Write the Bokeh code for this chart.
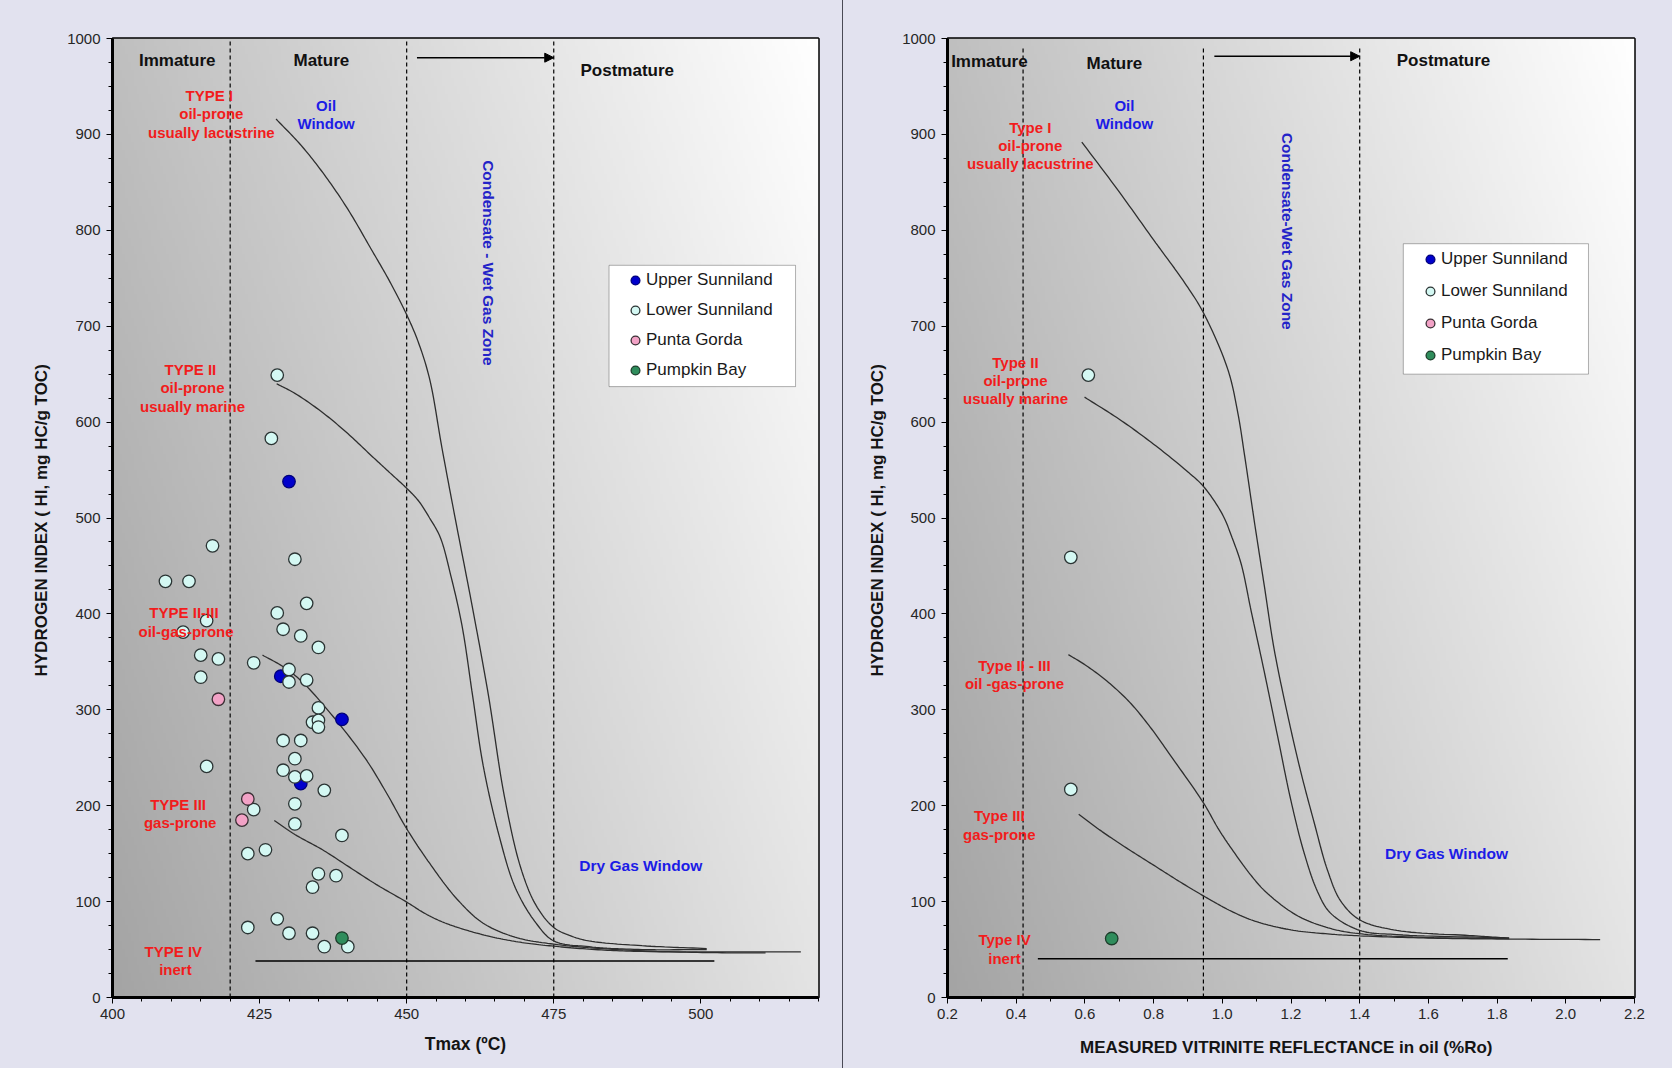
import numpy as np
from bokeh.plotting import figure
from bokeh.models import (Range1d, FixedTicker, Legend, LegendItem, Arrow, NormalHead,
                          Div, ColumnDataSource, BoxAnnotation, NumeralTickFormatter)
from bokeh.layouts import row
from bokeh.embed import file_html
from bokeh.resources import INLINE
from bokeh.core.properties import value

# ------------------------------------------------------------------ data
# Left panel: Tmax (degC) vs Hydrogen Index
upper_tmax = [430, 428.6, 439, 432]
upper_hi = [538, 335, 290, 223]
lower_tmax = [428, 427, 417, 431, 409, 413, 433, 428, 416, 412, 429, 432, 435, 415, 418, 424,
              430, 430, 433, 415, 435, 434, 435, 435, 429, 432, 416, 431, 429, 431, 433, 436,
              424, 431, 431, 439, 423, 426, 435, 438, 434, 428, 423, 430, 434, 436, 440]
lower_hi = [649, 583, 471, 457, 434, 434, 411, 401, 393, 381, 384, 377, 365, 357, 353, 349,
            342, 329, 331, 334, 302, 287, 289, 282, 268, 268, 241, 249, 237, 230, 231, 216,
            196, 202, 181, 169, 150, 154, 129, 127, 115, 82, 73, 67, 67, 53, 53]
punta_tmax = [418, 423, 422]
punta_hi = [311, 207, 185]
pumpkin_tmax = [439]
pumpkin_hi = [62]

# Right panel: vitrinite reflectance (%Ro) vs Hydrogen Index
upper_ro, upper_hi_r = [], []
lower_ro = [0.61, 0.559, 0.559]
lower_hi_r = [649, 459, 217]
punta_ro, punta_hi_r = [], []
pumpkin_ro = [0.678]
pumpkin_hi_r = [61.5]

# Kerogen-type maturation curves (left)
t1_tmax = [427.8, 432, 436, 440, 444, 447, 450, 452, 453.9, 456, 458.3, 461.2, 463.9, 466.6,
           469.4, 472, 475, 478, 481, 490, 501]
t1_hi = [916, 889, 858, 822, 780, 748, 712, 683, 645, 573, 498, 406, 315, 210,
         135, 96, 73, 64, 59, 54, 51]
t2_tmax = [427.9, 431, 435.7, 440, 444, 447, 450, 452, 453.9, 455.7, 457.5, 459.4, 461.2, 463,
           465.7, 468.5, 472, 475, 481, 490, 501]
t2_hi = [640, 630, 610, 588, 565, 548, 531, 518, 500, 480, 440, 388, 315, 242,
         169, 114, 77.5, 59, 53, 50, 50]
t23_tmax = [425.5, 429, 432.1, 437.5, 443, 446.6, 450, 453.9, 458.5, 463, 468.4, 475, 485.7,
            499.4, 511]
t23_hi = [357, 345, 330, 293, 249, 213, 176, 140, 103, 77.5, 63, 55.6, 50, 47, 46.5]
t3_tmax = [427.5, 431, 435.7, 440, 444.8, 450, 453, 456, 460, 465, 470, 475, 482, 490, 517]
t3_hi = [184.6, 170, 154, 137, 118, 99.5, 88, 79, 70.5, 62.5, 57, 53.5, 50, 48, 47.5]
t4_tmax = [424.3, 502.3]
t4_hi = [38, 38]

# Kerogen-type maturation curves (right)
r1_ro = [0.591, 0.7, 0.8, 0.891, 0.945, 1.016, 1.045, 1.065, 1.093, 1.122, 1.151, 1.19, 1.228,
         1.267, 1.306, 1.344, 1.40, 1.508, 1.72, 1.835]
r1_hi = [892, 840, 790, 745, 714, 655, 610, 565, 497, 430, 363, 295, 236,
         183, 133, 101, 81, 70, 64.6, 62]
r2_ro = [0.599, 0.7, 0.8, 0.9, 0.945, 1.0, 1.03, 1.055, 1.084, 1.122, 1.161, 1.2,
         1.238, 1.277, 1.315, 1.40, 1.508, 1.835]
r2_hi = [626, 603, 577, 548, 533, 504, 478, 452, 403, 340, 272.5, 205,
         151, 110.6, 88, 70, 65.6, 62]
r23_ro = [0.552, 0.6, 0.664, 0.73, 0.79, 0.85, 0.945, 0.99, 1.035, 1.08, 1.127, 1.22, 1.315,
          1.40, 1.6, 1.835]
r23_hi = [357.5, 347, 330, 308, 282, 252, 203, 175, 151, 129, 110, 85, 72, 66.5, 62.5, 61.5]
r3_ro = [0.582, 0.65, 0.725, 0.8, 0.875, 0.945, 1.026, 1.1, 1.2, 1.3, 1.4, 1.6, 1.8, 2.1]
r3_hi = [191, 173, 155, 138, 121, 106, 90, 79, 70.5, 66.5, 64.3, 62, 61, 60.4]
r4_ro = [0.463, 1.831]
r4_hi = [40.4, 40.4]

# zone boundaries
left_bounds = [420, 450, 475]
right_bounds = [0.42, 0.945, 1.40]

# ticks
left_x_ticks = [400, 425, 450, 475, 500]
left_x_minor = [v for v in range(400, 521, 5)]
y_ticks = [0, 100, 200, 300, 400, 500, 600, 700, 800, 900, 1000]
y_minor = [v for v in range(0, 1001, 25)]
right_x_ticks = [0.2, 0.4, 0.6, 0.8, 1.0, 1.2, 1.4, 1.6, 1.8, 2.0, 2.2]
right_x_minor = [round(0.2 + 0.1 * i, 2) for i in range(21)]

series_names = ["Upper Sunniland", "Lower Sunniland", "Punta Gorda", "Pumpkin Bay"]

# ------------------------------------------------------------------ style
FONTNAME = "Liberation Sans"
FONT = value(FONTNAME)
PAGE_BG = "#e2e2ef"
RED = "#f21c1c"
BLUE = "#1c1ce6"
series_fill = ["#0000cc", "#d4f8f3", "#f2a2c6", "#2f8d5c"]
series_line = ["#00007a", "#2b3434", "#3a2f34", "#1d3d2b"]
FIG_H = 1068


def smooth_path(xs, ys, xspan):
    """Centripetal Catmull-Rom drawing path through the read points (Excel-like smoothed line)."""
    sx = 700.0 / xspan
    sy = 0.96
    P = np.column_stack([np.asarray(xs, float) * sx, np.asarray(ys, float) * sy])
    if len(P) < 3:
        return list(xs), list(ys)
    P = np.vstack([2 * P[0] - P[1], P, 2 * P[-1] - P[-2]])
    out = []
    for i in range(1, len(P) - 2):
        p0, p1, p2, p3 = P[i - 1], P[i], P[i + 1], P[i + 2]
        t0 = 0.0
        t1 = t0 + max(np.linalg.norm(p1 - p0), 1e-6) ** 0.5
        t2 = t1 + max(np.linalg.norm(p2 - p1), 1e-6) ** 0.5
        t3 = t2 + max(np.linalg.norm(p3 - p2), 1e-6) ** 0.5
        for t in np.linspace(t1, t2, 14, endpoint=False):
            a1 = (t1 - t) / (t1 - t0) * p0 + (t - t0) / (t1 - t0) * p1
            a2 = (t2 - t) / (t2 - t1) * p1 + (t - t1) / (t2 - t1) * p2
            a3 = (t3 - t) / (t3 - t2) * p2 + (t - t2) / (t3 - t2) * p3
            b1 = (t2 - t) / (t2 - t0) * a1 + (t - t0) / (t2 - t0) * a2
            b2 = (t3 - t) / (t3 - t1) * a2 + (t - t1) / (t3 - t1) * a3
            out.append((t2 - t) / (t2 - t1) * b1 + (t - t1) / (t2 - t1) * b2)
    out.append(P[-2])
    out = np.array(out)
    return list(out[:, 0] / sx), list(out[:, 1] / sy)


def gradient_image():
    ny, nx = 120, 240
    xf = np.linspace(0, 1, nx)[None, :]
    yf = np.linspace(0, 1, ny)[:, None]
    t = np.clip(0.70 * xf + 0.30 * yf, 0, 1)
    g = (164 + 91 * t).astype(np.uint32)
    return (np.uint32(255) << 24) | (g << 16) | (g << 8) | g


def make_fig(width, xr, border, xlabel, xticks, xminor, x_fmt=None):
    p = figure(width=width, height=FIG_H, x_range=Range1d(*xr), y_range=Range1d(0, 1000),
               output_backend="svg", toolbar_location=None,
               min_border_left=border[0], min_border_right=border[1],
               min_border_top=border[2], min_border_bottom=border[3])
    p.border_fill_color = PAGE_BG
    p.background_fill_color = "white"
    p.outline_line_color = "black"
    p.outline_line_width = 2.5
    p.grid.visible = False
    p.image_rgba(image=[gradient_image()], x=xr[0], y=0, dw=xr[1] - xr[0], dh=1000, level="image")

    for ax in (p.xaxis, p.yaxis):
        ax.axis_line_width = 3
        ax.axis_line_color = "black"
        ax.major_tick_line_color = "black"
        ax.minor_tick_line_color = "black"
        ax.major_tick_in = 0
        ax.major_tick_out = 6
        ax.minor_tick_in = 0
        ax.minor_tick_out = 4
        ax.major_label_text_font = FONTNAME
        ax.major_label_text_font_size = "15px"
        ax.major_label_text_color = "#262626"
        ax.axis_label_text_font = FONTNAME
        ax.axis_label_text_font_style = "bold"
        ax.axis_label_text_color = "#141414"
    p.xaxis.ticker = FixedTicker(ticks=xticks, minor_ticks=xminor)
    p.yaxis.ticker = FixedTicker(ticks=y_ticks, minor_ticks=y_minor)
    if x_fmt:
        p.xaxis.formatter = NumeralTickFormatter(format=x_fmt)
    p.xaxis.major_label_standoff = 5
    p.yaxis.major_label_standoff = 6
    p.xaxis.axis_label = xlabel
    p.xaxis.axis_label_text_font_size = "17px"
    p.yaxis.axis_label = "HYDROGEN  INDEX ( HI, mg HC/g TOC)"
    p.yaxis.axis_label_text_font_size = "17px"
    return p


def add_common(p, bounds, vline_top, arrow_y, curves, inert, pts, labels, vtext,
               legend_box, legend_loc, pitch, xspan):
    # zone boundaries
    for b in bounds:
        p.line([b, b], [0, vline_top], line_color="black", line_width=1.2, line_dash="4 3")
    p.add_layout(Arrow(end=NormalHead(size=9, fill_color="black", line_color="black"),
                       x_start=bounds[1] + 0.07 * (bounds[2] - bounds[1]), y_start=arrow_y,
                       x_end=bounds[2], y_end=arrow_y, line_color="black", line_width=1.5))
    # curves
    for cx, cy in curves:
        sx, sy = smooth_path(cx, cy, xspan)
        p.line(sx, sy, line_color="#2e2e2e", line_width=1.3)
    p.line(inert[0], inert[1], line_color="black", line_width=1.6)

    # points (series without samples still get a legend swatch)
    rends = []
    for (xs, ys), fc, lc in zip(pts, series_fill, series_line):
        xs = xs if len(xs) else [float("nan")]
        ys = ys if len(ys) else [float("nan")]
        rends.append(p.scatter(xs, ys, size=12.5, fill_color=fc, line_color=lc, line_width=1.3))
    # labels
    src = ColumnDataSource(labels)
    p.text(x="x", y="y", text="text", text_color="color", source=src, text_font=FONT,
           text_font_style="bold", text_font_size="size", text_align="center",
           text_baseline="middle", text_line_height=1.08)
    p.text(x=[vtext[0]], y=[vtext[1]], text=[vtext[2]], angle=-np.pi / 2, text_color="#2323c8",
           text_font=FONT, text_font_style="bold", text_font_size="15.5px",
           text_align="center", text_baseline="middle")
    # legend
    p.add_layout(BoxAnnotation(left=legend_box[0], right=legend_box[1], bottom=legend_box[2],
                               top=legend_box[3], fill_color="white", fill_alpha=1,
                               line_color="black", line_width=1, level="annotation"))
    leg = Legend(items=[LegendItem(label=n, renderers=[r]) for n, r in zip(series_names, rends)],
                 location=legend_loc, orientation="vertical",
                 border_line_alpha=0, background_fill_alpha=0, margin=0, padding=16,
                 glyph_width=22, glyph_height=pitch - 4, label_height=pitch - 4, spacing=4,
                 label_standoff=0, label_text_font=FONTNAME, label_text_font_size="17px",
                 label_text_color="#1a1a1a")
    p.add_layout(leg)
    return rends


# ------------------------------------------------------------------ left panel
pl = make_fig(842, (400, 520), (112, 24, 38, 71), "Tmax (ºC)", left_x_ticks, left_x_minor)
pl.xaxis.axis_label_text_font_size = "17.5px"
pl.xaxis.axis_label_standoff = 12
pl.yaxis.axis_label_standoff = 13
left_labels = dict(
    x=[411, 435.5, 487.5, 416.8, 436.3, 413.6, 412.5, 411.5, 410.7, 489.8],
    y=[977, 977, 966.5, 921.5, 921, 635.6, 391.5, 192, 38.5, 138],
    text=["Immature", "Mature", "Postmature", "TYPE  I\noil-prone\nusually lacustrine",
          "Oil\nWindow", "TYPE  II\noil-prone\nusually marine", "TYPE  II-III\noil-gas-prone",
          "TYPE  III\ngas-prone", "TYPE  IV\ninert", "Dry Gas Window"],
    color=["#111111", "#111111", "#111111", RED, BLUE, RED, RED, RED, RED, BLUE],
    size=["17px", "17px", "17px", "15px", "15px", "15px", "15px", "15px", "15px", "15.5px"],
)
add_common(pl, left_bounds, 1000, 980,
           [(t1_tmax, t1_hi), (t2_tmax, t2_hi), (t23_tmax, t23_hi), (t3_tmax, t3_hi)],
           (t4_tmax, t4_hi),
           [(upper_tmax, upper_hi), (lower_tmax, lower_hi), (punta_tmax, punta_hi),
            (pumpkin_tmax, pumpkin_hi)],
           left_labels, (463.9, 766, "Condensate - Wet Gas Zone"),
           (484.4, 516.1, 637, 763.5), (496, 598), 30, 120)

# ------------------------------------------------------------------ right panel
pr = make_fig(829, (0.2, 2.2), (104, 38, 38, 71),
              "MEASURED  VITRINITE REFLECTANCE  in oil (%Ro)", right_x_ticks, right_x_minor, "0.0")
pr.xaxis.axis_label_standoff = 16
pr.yaxis.axis_label_standoff = 12
right_labels = dict(
    x=[0.322, 0.686, 1.644, 0.441, 0.715, 0.398, 0.395, 0.351, 0.366, 1.653],
    y=[976.5, 974, 977.5, 888.5, 920.5, 643.5, 336.5, 180, 50.5, 150],
    text=["Immature", "Mature", "Postmature", "Type I\noil-prone\nusually lacustrine",
          "Oil\nWindow", "Type II\noil-prone\nusually marine", "Type II - III\noil -gas-prone",
          "Type III\ngas-prone", "Type IV\ninert", "Dry Gas Window"],
    color=["#111111", "#111111", "#111111", RED, BLUE, RED, RED, RED, RED, BLUE],
    size=["17px", "17px", "17px", "15px", "15px", "15px", "15px", "15px", "15px", "15.5px"],
)
add_common(pr, right_bounds, 990, 981.5,
           [(r1_ro, r1_hi), (r2_ro, r2_hi), (r23_ro, r23_hi), (r3_ro, r3_hi)],
           (r4_ro, r4_hi),
           [(upper_ro, upper_hi_r), (lower_ro, lower_hi_r), (punta_ro, punta_hi_r),
            (pumpkin_ro, pumpkin_hi_r)],
           right_labels, (1.19, 799, "Condensate-Wet Gas Zone"),
           (1.527, 2.066, 650, 786), (456, 612), 32, 2.0)

divider = Div(width=1, height=FIG_H, margin=0, styles={"background-color": "#4a4a55"})
layout = row(pl, divider, pr, spacing=0)
layout.styles = {"background-color": PAGE_BG}

open("out.html", "w").write(file_html(layout, INLINE))
